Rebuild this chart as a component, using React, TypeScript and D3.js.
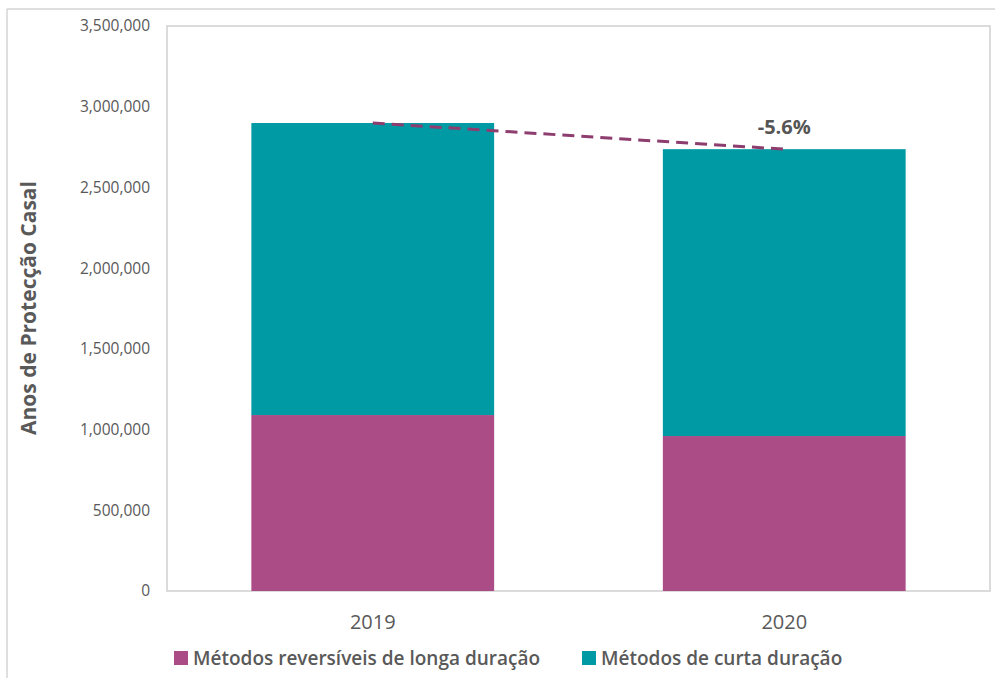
import React from 'react';
import * as d3 from 'd3';

const years = ['2019', '2020'];
const longDuration = [1090000, 960000];
const shortDuration = [1809000, 1777000];
const seriesNames = ['Métodos reversíveis de longa duração', 'Métodos de curta duração'];
const yTicks = [0, 500000, 1000000, 1500000, 2000000, 2500000, 3000000, 3500000];
const changeLabel = '-5.6%';

const colors = ['#ab4c87', '#009aa5'];
const font = '"Open Sans", "Noto Sans", sans-serif';

const App: React.FC = () => {
  const width = 995;
  const height = 678;
  const plot = { left: 167, top: 26, right: 990, bottom: 591 };

  const x = d3.scaleBand<string>()
    .domain(years)
    .range([plot.left, plot.right])
    .paddingInner(0.41)
    .paddingOuter(0.205);

  const y = d3.scaleLinear()
    .domain([0, 3500000])
    .range([plot.bottom, plot.top]);

  const rows = years.map((yr, i) => ({ year: yr, long: longDuration[i], short: shortDuration[i] }));
  const stacked = d3.stack<typeof rows[number]>().keys(['long', 'short'])(rows);

  const fmt = d3.format(',');
  const totals = rows.map(r => r.long + r.short);
  const cx = (yr: string) => (x(yr) ?? 0) + x.bandwidth() / 2;

  return (
    <svg width={width} height={height} style={{ position: 'absolute', left: 0, top: 0 }}>
      <rect x={0} y={0} width={width} height={height} fill="#fff" />
      {/* outer frame */}
      <line x1={7} x2={width} y1={9} y2={9} stroke="#d4d4d4" strokeWidth={1.5} />
      <line x1={7} x2={7} y1={9} y2={height} stroke="#d4d4d4" strokeWidth={1.5} />
      {/* plot box */}
      <rect x={plot.left} y={plot.top} width={plot.right - plot.left} height={plot.bottom - plot.top}
        fill="none" stroke="#d0d0d0" strokeWidth={1.5} />

      {stacked.map((layer, li) => (
        <g key={layer.key} fill={colors[li]}>
          {layer.map(d => (
            <rect key={d.data.year}
              x={x(d.data.year)}
              y={y(d[1])}
              width={x.bandwidth()}
              height={y(d[0]) - y(d[1])} />
          ))}
        </g>
      ))}

      {/* trend line */}
      <line x1={cx(years[0])} y1={y(totals[0])} x2={cx(years[1])} y2={y(totals[1])}
        stroke="#8e3d6f" strokeWidth={3} strokeDasharray="12 7" />
      <text x={cx(years[1])} y={y(totals[1]) - 15} textAnchor="middle"
        fontFamily={font} fontSize={20} fontWeight="bold" fill="#555">{changeLabel}</text>

      {yTicks.map(t => (
        <text key={t} x={150} y={y(t)} dy="0.35em" textAnchor="end"
          fontFamily={font} fontSize={15.5} fill="#595959">{fmt(t)}</text>
      ))}

      {years.map(yr => (
        <text key={yr} x={cx(yr)} y={622} dy="0.35em" textAnchor="middle"
          fontFamily={font} fontSize={20} fill="#595959">{yr}</text>
      ))}

      <text transform="translate(36, 308) rotate(-90)" textAnchor="middle"
        fontFamily={font} fontSize={21} fontWeight="bold" fill="#595959">Anos de Protecção Casal</text>

      {seriesNames.map((name, i) => {
        const lx = i === 0 ? 174 : 582;
        return (
          <g key={name}>
            <rect x={lx} y={651} width={14} height={14} fill={colors[i]} />
            <text x={lx + 19} y={658} dy="0.35em" fontFamily={font} fontSize={19}
              fontWeight={600} fill="#595959">{name}</text>
          </g>
        );
      })}
    </svg>
  );
};

export default App;
